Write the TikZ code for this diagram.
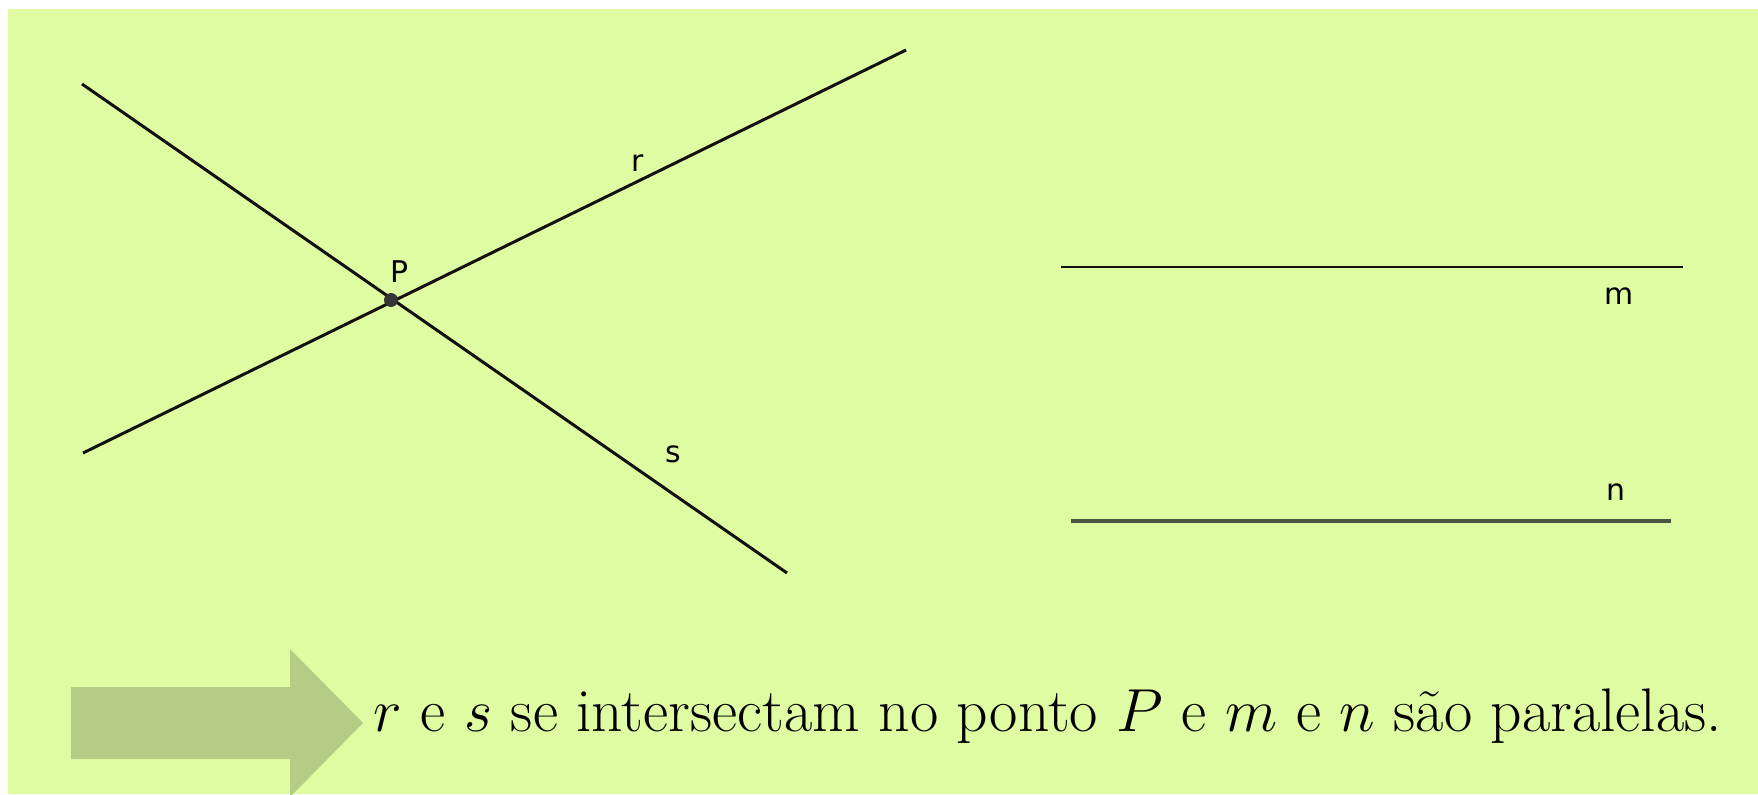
\documentclass[tikz,border=0pt]{standalone}
\usepackage{fontspec}
\usepackage{tikz}
\usepackage{xcolor}
\newfontfamily\labelfont{DejaVu Sans}
\definecolor{Board}{HTML}{DFFCA3}
\definecolor{Mark}{HTML}{B4CC84}
\definecolor{Ink}{HTML}{111111}
\definecolor{Olive}{HTML}{4A5440}

\begin{document}
\begin{tikzpicture}[x=0.01cm,y=-0.01cm,
  line/.style={Ink,line width=0.85pt},
  lbl/.style={font=\labelfont\fontsize{8.5}{10}\selectfont,inner sep=0pt},
  caption/.style={font=\fontsize{17.5}{20}\selectfont,inner sep=0pt,anchor=base west}]
  \useasboundingbox (0,0) rectangle (1758,794);
  \fill[white] (0,0) rectangle (1758,794);
  \fill[Board] (8,9) rectangle (1758,794);
  % crossing lines
  \coordinate (s1) at (82,84);
  \coordinate (s2) at (787,573);
  \coordinate (r1) at (83,453);
  \coordinate (r2) at (906,50);
  \draw[line] (s1) -- (s2);
  \draw[line] (r1) -- (r2);
  \fill[Ink!85] (391,300) circle (7);
  \node[lbl] (P) at (400,272) {P};
  \node[lbl] (r) at (638,163) {r};
  \node[lbl] (s) at (673,454) {s};
  % parallel lines
  \coordinate (m1) at (1061,267);
  \coordinate (m2) at (1683,267);
  \coordinate (n1) at (1071,521);
  \coordinate (n2) at (1671,521);
  \draw[line] (m1) -- (m2);
  \draw[Olive,line width=1.1pt] (n1) -- (n2);
  \node[lbl] (m) at (1619,296) {m};
  \node[lbl] (n) at (1616,492) {n};
  % arrow and sentence
  \fill[Mark] (71,687) -- (290,687) -- (290,649) -- (363,723) -- (290,797)
    -- (290,759) -- (71,759) -- cycle;
  \node[caption] (txt) at (373,731) {$r$ e $s$ se intersectam no ponto $P$ e $m$ e $n$ são paralelas.};
\end{tikzpicture}
\end{document}
